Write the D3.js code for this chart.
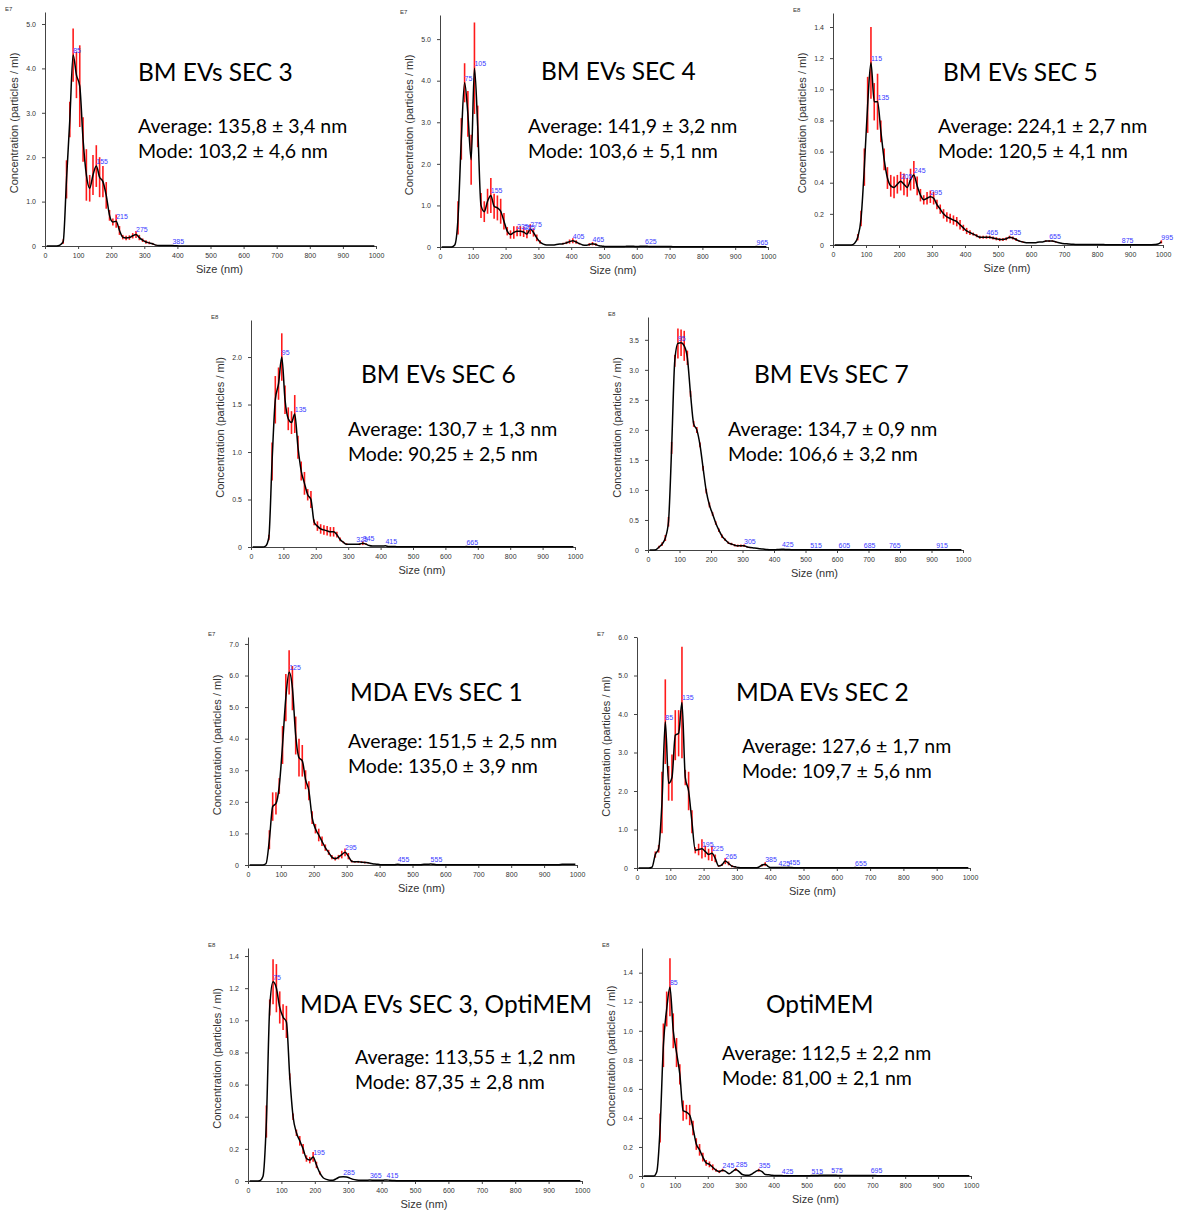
<!DOCTYPE html>
<html>
<head>
<meta charset="utf-8">
<script src="https://cdn.jsdelivr.net/npm/d3@7"></script>
<style>
  body { margin: 0; background: #fff; }
  .tick text { font-family: "Liberation Sans", Arial, sans-serif; font-size: 7px; fill: #333; }
  .domain, .tick line { stroke: #444; }
</style>
</head>
<body>
<script>
var w = 1180,
    h = 1216;

// bin centres (nm)
var sizeBins = [
  5, 15, 25, 35, 45, 55, 65, 75, 85, 95,
  105, 115, 125, 135, 145, 155, 165, 175, 185, 195,
  205, 215, 225, 235, 245, 255, 265, 275, 285, 295,
  305, 315, 325, 335, 345, 355, 365, 375, 385, 395,
  405, 415, 425, 435, 445, 455, 465, 475, 485, 495,
  505, 515, 525, 535, 545, 555, 565, 575, 585, 595,
  605, 615, 625, 635, 645, 655, 665, 675, 685, 695,
  705, 715, 725, 735, 745, 755, 765, 775, 785, 795,
  805, 815, 825, 835, 845, 855, 865, 875, 885, 895,
  905, 915, 925, 935, 945, 955, 965, 975, 985, 995
];

var sizeTicks = [0, 100, 200, 300, 400, 500, 600, 700, 800, 900, 1000];

// BM EVs SEC 3 (E7)
var bmSec3Conc = [
  0, 0, 0, 0, 0.02, 0.1, 1.5, 2.85, 4.3, 3.85,
  3.6, 2.4, 1.6, 1.3, 1.6, 1.8, 1.55, 1.45, 1.14, 0.69,
  0.54, 0.56, 0.35, 0.2, 0.18, 0.19, 0.23, 0.26, 0.19, 0.13,
  0.09, 0.07, 0.05, 0.02, 0.01, 0.01, 0.01, 0.01, 0.01, 0.005,
  0, 0, 0, 0, 0, 0, 0, 0, 0, 0,
  0, 0, 0, 0, 0, 0, 0, 0, 0, 0,
  0, 0, 0, 0, 0, 0, 0, 0, 0, 0,
  0, 0, 0, 0, 0, 0, 0, 0, 0, 0,
  0, 0, 0, 0, 0, 0, 0, 0, 0, 0,
  0, 0, 0, 0, 0, 0, 0, 0, 0, 0
];
var bmSec3Err = [
  0, 0, 0, 0, 0, 0.05, 0.43, 0.4, 0.6, 0.52,
  0.92, 0.5, 0.58, 0.3, 0.45, 0.47, 0.45, 0.35, 0.3, 0.12,
  0.08, 0.15, 0.1, 0.05, 0.05, 0.05, 0.06, 0.08, 0.06, 0.04,
  0.04, 0.03, 0.02, 0.01
];
var bmSec3Peaks = [85, 155, 215, 275, 385];

// BM EVs SEC 4 (E7)
var bmSec4Conc = [
  0, 0, 0, 0, 0.05, 0.7, 2.6, 3.95, 3.2, 2.1,
  4.3, 2.9, 1.0, 0.85, 1.1, 1.24, 0.98, 0.94, 0.86, 0.62,
  0.38, 0.3, 0.35, 0.38, 0.38, 0.36, 0.31, 0.43, 0.35, 0.22,
  0.12, 0.07, 0.05, 0.05, 0.05, 0.06, 0.07, 0.08, 0.1, 0.13,
  0.15, 0.12, 0.08, 0.05, 0.04, 0.06, 0.08, 0.06, 0.03, 0.02,
  0.01, 0.01, 0.01, 0.01, 0.01, 0.01, 0.015, 0.02, 0.02, 0.015,
  0.015, 0.02, 0.02, 0.015, 0.01, 0.01, 0.01, 0.01, 0.01, 0.01,
  0.01, 0.005, 0.005, 0.005, 0.005, 0.005, 0.005, 0.005, 0.005, 0.005,
  0.005, 0.005, 0.005, 0.005, 0.005, 0.005, 0.005, 0.005, 0.005, 0.005,
  0.005, 0.005, 0.005, 0.005, 0.005, 0.005, 0.01, 0.005, 0.005, 0.005
];
var bmSec4Err = [
  0, 0, 0, 0, 0, 0.4, 0.5, 0.47, 0.55, 0.6,
  1.1, 0.5, 0.3, 0.25, 0.3, 0.42, 0.3, 0.3, 0.3, 0.2,
  0.1, 0.1, 0.15, 0.12, 0.12, 0.12, 0.1, 0.12, 0.1, 0.08,
  0.04, 0, 0, 0, 0, 0, 0, 0.02, 0.03, 0.05,
  0.06, 0.04, 0.02, 0, 0, 0.03, 0.04, 0.03
];
var bmSec4Peaks = [75, 105, 155, 235, 255, 275, 405, 465, 625, 965];

// BM EVs SEC 5 (E8)
var bmSec5Conc = [
  0, 0, 0, 0, 0, 0, 0.01, 0.05, 0.17, 0.5,
  0.9, 1.17, 0.92, 0.92, 0.73, 0.55, 0.43, 0.38, 0.37, 0.39,
  0.41, 0.39, 0.37, 0.42, 0.45, 0.38, 0.32, 0.29, 0.3, 0.31,
  0.3, 0.26, 0.23, 0.2, 0.18, 0.17, 0.16, 0.15, 0.13, 0.11,
  0.09, 0.08, 0.07, 0.06, 0.05, 0.05, 0.05, 0.05, 0.045, 0.04,
  0.035, 0.035, 0.04, 0.05, 0.045, 0.035, 0.025, 0.02, 0.015, 0.015,
  0.015, 0.015, 0.02, 0.02, 0.025, 0.025, 0.025, 0.02, 0.015, 0.01,
  0.008, 0.006, 0.005, 0.004, 0.004, 0.003, 0.003, 0.003, 0.003, 0.003,
  0.003, 0.003, 0.002, 0.002, 0.002, 0.002, 0.002, 0.002, 0.002, 0.002,
  0.002, 0.002, 0.002, 0.002, 0.002, 0.002, 0.002, 0.003, 0.006, 0.02
];
var bmSec5Err = [
  0, 0, 0, 0, 0, 0, 0, 0.02, 0.05, 0.12,
  0.18, 0.23, 0.12, 0.18, 0.07, 0.07, 0.07, 0.07, 0.07, 0.06,
  0.06, 0.07, 0.06, 0.07, 0.09, 0.06, 0.04, 0.03, 0.04, 0.04,
  0.04, 0.03, 0.03, 0.03, 0.03, 0.03, 0.03, 0.03, 0.03, 0.02,
  0.02, 0.015, 0.01, 0.01, 0.01, 0.01, 0.01, 0.01, 0.01, 0.01,
  0.01, 0.01, 0.01, 0.01, 0.01, 0.01, 0.005, 0.005, 0, 0,
  0, 0, 0, 0, 0.005, 0.005, 0.005, 0.005, 0, 0,
  0, 0, 0, 0, 0, 0, 0, 0, 0, 0,
  0, 0, 0, 0, 0, 0, 0, 0, 0, 0,
  0, 0, 0, 0, 0, 0, 0, 0, 0, 0.01
];
var bmSec5Peaks = [115, 135, 205, 245, 295, 465, 535, 655, 875, 995];

// BM EVs SEC 6 (E8)
var bmSec6Conc = [
  0, 0, 0, 0, 0.01, 0.1, 0.9, 1.55, 1.72, 2.0,
  1.55, 1.35, 1.31, 1.4, 1.05, 0.8, 0.67, 0.55, 0.5, 0.26,
  0.22, 0.19, 0.18, 0.17, 0.16, 0.16, 0.13, 0.08, 0.05, 0.03,
  0.03, 0.03, 0.03, 0.03, 0.04, 0.03, 0.015, 0.01, 0.01, 0.01,
  0.01, 0.012, 0.005, 0.004, 0.004, 0.003, 0.003, 0.003, 0.003, 0.003,
  0.003, 0.003, 0.003, 0.003, 0.003, 0.003, 0.003, 0.003, 0.003, 0.003,
  0.003, 0.003, 0.003, 0.003, 0.003, 0.003, 0.004, 0.003, 0.003, 0.003,
  0.003, 0.003, 0.003, 0.003, 0.003, 0.003, 0.003, 0.003, 0.003, 0.003,
  0.002, 0.002, 0.002, 0.002, 0.002, 0.002, 0.002, 0.002, 0.002, 0.002,
  0.002, 0.002, 0.002, 0.002, 0.002, 0.002, 0.002, 0.002, 0.002, 0.002
];
var bmSec6Err = [
  0, 0, 0, 0, 0, 0.03, 0.2, 0.25, 0.17, 0.25,
  0.15, 0.12, 0.12, 0.2, 0.12, 0.1, 0.12, 0.06, 0.09, 0.03,
  0.05, 0.05, 0.05, 0.05, 0.05, 0.05, 0.03, 0.02, 0.01, 0.01,
  0, 0, 0, 0.01, 0.02, 0.01
];
var bmSec6Peaks = [95, 135, 325, 345, 415, 665];

// BM EVs SEC 7 (E8)
var bmSec7Conc = [
  0, 0, 0.005, 0.05, 0.1, 0.2, 0.47, 1.7, 3.15, 3.44,
  3.45, 3.4, 3.2, 2.6, 2.1, 2.0, 1.75, 1.36, 0.98, 0.75,
  0.6, 0.45, 0.33, 0.23, 0.17, 0.12, 0.1, 0.08, 0.07, 0.07,
  0.07, 0.05, 0.04, 0.035, 0.03, 0.02, 0.015, 0.01, 0.005, 0.003,
  0.005, 0.01, 0.012, 0.01, 0.008, 0.006, 0.005, 0.004, 0.004, 0.004,
  0.004, 0.005, 0.004, 0.004, 0.003, 0.003, 0.003, 0.003, 0.003, 0.003,
  0.004, 0.003, 0.003, 0.003, 0.003, 0.003, 0.003, 0.003, 0.004, 0.003,
  0.003, 0.003, 0.003, 0.003, 0.003, 0.003, 0.004, 0.003, 0.003, 0.003,
  0.003, 0.003, 0.003, 0.003, 0.003, 0.003, 0.003, 0.003, 0.003, 0.003,
  0.003, 0.004, 0.003, 0.003, 0.003, 0.003, 0.003, 0.003, 0.003, 0.003
];
var bmSec7Err = [
  0, 0, 0, 0.02, 0.03, 0.05, 0.08, 0.1, 0.1, 0.25,
  0.22, 0.25, 0.12, 0.05, 0.05, 0.05, 0.04, 0.04, 0.04, 0.04,
  0.03, 0.03, 0.03, 0.03, 0.02, 0.02, 0.02, 0.02, 0.02, 0.02,
  0.02, 0.01, 0.01
];
var bmSec7Peaks = [95, 305, 425, 515, 605, 685, 765, 915];

// MDA EVs SEC 1 (E7)
var mdaSec1Conc = [
  0, 0, 0, 0, 0, 0.05, 0.8, 1.85, 1.95, 2.5,
  3.8, 5.3, 6.1, 5.6, 4.1, 3.4, 3.3, 2.7, 2.35, 1.5,
  1.15, 0.95, 0.75, 0.55, 0.4, 0.25, 0.2, 0.25, 0.33, 0.4,
  0.28, 0.12, 0.1, 0.1, 0.09, 0.08, 0.07, 0.05, 0.03, 0.02,
  0.01, 0.01, 0.01, 0.01, 0.01, 0.02, 0.01, 0.01, 0.01, 0.01,
  0.01, 0.01, 0.01, 0.02, 0.02, 0.03, 0.02, 0.01, 0.01, 0.01,
  0.01, 0.01, 0.01, 0.01, 0.01, 0.01, 0.01, 0.01, 0.01, 0.01,
  0.01, 0.01, 0.01, 0.01, 0.01, 0.01, 0.01, 0.01, 0.01, 0.01,
  0.01, 0.01, 0.01, 0.01, 0.01, 0.01, 0.01, 0.01, 0.01, 0.01,
  0.01, 0.01, 0.01, 0.01, 0.01, 0.02, 0.02, 0.02, 0.02, 0.02
];
var mdaSec1Err = [
  0, 0, 0, 0, 0, 0, 0.3, 0.45, 0.35, 0.25,
  0.6, 0.75, 0.7, 0.7, 0.6, 0.6, 0.5, 0.3, 0.3, 0.2,
  0.15, 0.2, 0.15, 0.1, 0.08, 0.07, 0.06, 0.07, 0.12, 0.12,
  0.1, 0.04, 0.03, 0.03, 0.03, 0.03, 0.02
];
var mdaSec1Peaks = [125, 295, 455, 555];

// MDA EVs SEC 2 (E7)
var mdaSec2Conc = [
  0, 0, 0, 0, 0.02, 0.35, 0.5, 1.7, 3.8, 2.2,
  2.35, 3.45, 3.5, 4.3, 2.35, 2.0, 1.2, 0.46, 0.48, 0.5,
  0.43, 0.35, 0.38, 0.25, 0.05, 0.08, 0.18, 0.12, 0.05, 0.03,
  0.01, 0.005, 0.005, 0.005, 0.005, 0.005, 0.02, 0.07, 0.1, 0.03,
  0.01, 0.01, 0.01, 0.01, 0.01, 0.02, 0.01, 0.005, 0.005, 0.005,
  0.005, 0.005, 0.005, 0.005, 0.005, 0.005, 0.005, 0.005, 0.005, 0.005,
  0.005, 0.005, 0.005, 0.005, 0.005, 0.01, 0.005, 0.005, 0.005, 0.005,
  0.005, 0.005, 0.005, 0.005, 0.005, 0.005, 0.005, 0.005, 0.005, 0.005,
  0.005, 0.005, 0.005, 0.005, 0.005, 0.005, 0.005, 0.005, 0.005, 0.005,
  0.005, 0.005, 0.005, 0.005, 0.005, 0.005, 0.005, 0.005, 0.005, 0.005
];
var mdaSec2Err = [
  0, 0, 0, 0, 0, 0.08, 0.1, 0.8, 1.1, 0.45,
  0.6, 0.65, 0.6, 1.45, 0.2, 0.5, 0.3, 0.08, 0.15, 0.25,
  0.15, 0.15, 0.2, 0.1, 0.02, 0.03, 0.08, 0.05, 0.03, 0.02,
  0, 0, 0, 0, 0, 0, 0, 0.03, 0.05
];
var mdaSec2Peaks = [85, 135, 195, 225, 265, 385, 425, 455, 655];

// MDA EVs SEC 3, OptiMEM (E8)
var mdaSec3Conc = [
  0, 0, 0, 0.002, 0.03, 0.37, 1.08, 1.24, 1.2, 1.08,
  1.02, 0.99, 0.65, 0.4, 0.3, 0.25, 0.2, 0.14, 0.13, 0.15,
  0.1, 0.05, 0.02, 0.01, 0.005, 0.005, 0.015, 0.025, 0.027, 0.025,
  0.018, 0.01, 0.006, 0.004, 0.004, 0.005, 0.006, 0.005, 0.004, 0.004,
  0.005, 0.007, 0.004, 0.003, 0.002, 0.002, 0.002, 0.002, 0.002, 0.002,
  0.002, 0.002, 0.002, 0.002, 0.002, 0.002, 0.002, 0.002, 0.002, 0.002,
  0.002, 0.002, 0.002, 0.002, 0.002, 0.002, 0.002, 0.002, 0.002, 0.002,
  0.002, 0.002, 0.002, 0.002, 0.002, 0.002, 0.002, 0.002, 0.002, 0.002,
  0.002, 0.002, 0.002, 0.002, 0.002, 0.002, 0.002, 0.002, 0.002, 0.002,
  0.002, 0.002, 0.002, 0.002, 0.002, 0.002, 0.002, 0.002, 0.002, 0.002
];
var mdaSec3Err = [
  0, 0, 0, 0, 0, 0.1, 0.05, 0.14, 0.15, 0.1,
  0.08, 0.1, 0.02, 0.02, 0.02, 0.03, 0.03, 0.02, 0.02, 0.03,
  0.02, 0.01
];
var mdaSec3Peaks = [75, 195, 285, 365, 415];

// OptiMEM (E8)
var optiConc = [
  0, 0, 0, 0, 0.03, 0.33, 0.9, 1.15, 1.3, 1.0,
  0.85, 0.7, 0.45, 0.44, 0.42, 0.33, 0.22, 0.18, 0.13, 0.09,
  0.08, 0.06, 0.04, 0.03, 0.04, 0.03, 0.015, 0.03, 0.045, 0.03,
  0.01, 0.005, 0.005, 0.015, 0.03, 0.04, 0.03, 0.01, 0.008, 0.005,
  0.004, 0.003, 0.003, 0.002, 0.002, 0.002, 0.002, 0.002, 0.002, 0.002,
  0.002, 0.003, 0.003, 0.004, 0.005, 0.005, 0.005, 0.006, 0.005, 0.004,
  0.003, 0.003, 0.003, 0.003, 0.003, 0.003, 0.003, 0.003, 0.003, 0.004,
  0.003, 0.002, 0.002, 0.002, 0.002, 0.002, 0.002, 0.002, 0.002, 0.002,
  0.002, 0.002, 0.002, 0.002, 0.002, 0.002, 0.002, 0.002, 0.002, 0.002,
  0.002, 0.002, 0.002, 0.002, 0.002, 0.002, 0.002, 0.002, 0.002, 0.002
];
var optiErr = [
  0, 0, 0, 0, 0, 0.1, 0.15, 0.12, 0.2, 0.12,
  0.1, 0.07, 0.07, 0.05, 0.07, 0.05, 0.04, 0.04, 0.03, 0.02,
  0.02, 0.02, 0.01, 0.01, 0.01, 0, 0, 0, 0.01, 0,
  0, 0, 0, 0, 0, 0.01
];
var optiPeaks = [85, 245, 285, 355, 425, 515, 575, 695];

// y tick values
var ticksOneStep5 = [0, 1, 2, 3, 4, 5];
var ticksOneStep6 = [0, 1, 2, 3, 4, 5, 6];
var ticksOneStep7 = [0, 1, 2, 3, 4, 5, 6, 7];
var ticksFifth = [0, 0.2, 0.4, 0.6, 0.8, 1.0, 1.2, 1.4];
var ticksHalf2 = [0, 0.5, 1.0, 1.5, 2.0];
var ticksHalf35 = [0, 0.5, 1.0, 1.5, 2.0, 2.5, 3.0, 3.5];

var titles = ['BM EVs SEC 3', 'BM EVs SEC 4', 'BM EVs SEC 5', 'BM EVs SEC 6', 'BM EVs SEC 7',
              'MDA EVs SEC 1', 'MDA EVs SEC 2', 'MDA EVs SEC 3, OptiMEM', 'OptiMEM'];
var averages = ['135,8 ± 3,4', '141,9 ± 3,2', '224,1 ± 2,7', '130,7 ± 1,3', '134,7 ± 0,9',
                '151,5 ± 2,5', '127,6 ± 1,7', '113,55 ± 1,2', '112,5 ± 2,2'];
var modes = ['103,2 ± 4,6', '103,6 ± 5,1', '120,5 ± 4,1', '90,25 ± 2,5', '106,6 ± 3,2',
             '135,0 ± 3,9', '109,7 ± 5,6', '87,35 ± 2,8', '81,00 ± 2,1'];
var exponents = ['E7', 'E7', 'E8', 'E8', 'E8', 'E7', 'E7', 'E8', 'E8'];
var yMaxes = [5.27, 5.58, 1.49, 2.39, 3.88, 7.22, 6.0, 1.45, 1.57];

var concs = [bmSec3Conc, bmSec4Conc, bmSec5Conc, bmSec6Conc, bmSec7Conc, mdaSec1Conc, mdaSec2Conc, mdaSec3Conc, optiConc];
var errs = [bmSec3Err, bmSec4Err, bmSec5Err, bmSec6Err, bmSec7Err, mdaSec1Err, mdaSec2Err, mdaSec3Err, optiErr];
var peaks = [bmSec3Peaks, bmSec4Peaks, bmSec5Peaks, bmSec6Peaks, bmSec7Peaks, mdaSec1Peaks, mdaSec2Peaks, mdaSec3Peaks, optiPeaks];
var yTicks = [ticksOneStep5, ticksOneStep5, ticksFifth, ticksHalf2, ticksHalf35, ticksOneStep7, ticksOneStep6, ticksFifth, ticksFifth];

// where each panel sits on the page
var layout = [
  {x0: 45,  x1: 376, top: 12,  bot: 246,  tx: 138, ty: 81,   ax: 138, ay: 133},
  {x0: 440, x1: 768, top: 15,  bot: 247,  tx: 541, ty: 80,   ax: 528, ay: 133},
  {x0: 833, x1: 1163, top: 13, bot: 245,  tx: 943, ty: 81,   ax: 938, ay: 133},
  {x0: 251, x1: 575, top: 320, bot: 547,  tx: 361, ty: 383,  ax: 348, ay: 436},
  {x0: 648, x1: 963, top: 317, bot: 550,  tx: 754, ty: 383,  ax: 728, ay: 436},
  {x0: 248, x1: 577, top: 637, bot: 865,  tx: 350, ty: 701,  ax: 348, ay: 748},
  {x0: 637, x1: 970, top: 637, bot: 868,  tx: 736, ty: 701,  ax: 742, ay: 753},
  {x0: 248, x1: 582, top: 948, bot: 1181, tx: 300, ty: 1013, ax: 355, ay: 1064},
  {x0: 642, x1: 971, top: 948, bot: 1176, tx: 766, ty: 1013, ax: 722, ay: 1060}
];

var svg = d3.select('body')
            .append('svg')
            .attr('width', w)
            .attr('height', h);

var tickFmt = function(d) { return d === 0 ? '0' : d3.format('.1f')(d); };

titles.forEach(function(title, k) {
  var L = layout[k];
  var conc = concs[k],
      err = errs[k];

  // one record per bin so the error bars keep their size
  var points = conc.map(function(v, i) {
    return {size: sizeBins[i], value: v, err: err[i] || 0};
  });

  var x = d3.scaleLinear().domain([0, 1000]).range([L.x0, L.x1]);
  var y = d3.scaleLinear().domain([0, yMaxes[k]]).range([L.bot, L.top]);

  var g = svg.append('g');

  // axes
  g.append('g')
   .attr('transform', 'translate(0,' + L.bot + ')')
   .call(d3.axisBottom(x).tickValues(sizeTicks).tickFormat(d3.format('d'))
           .tickSize(3).tickSizeOuter(0).tickPadding(4));

  g.append('g')
   .attr('transform', 'translate(' + L.x0 + ',0)')
   .call(d3.axisLeft(y).tickValues(yTicks[k]).tickFormat(tickFmt)
           .tickSize(3).tickSizeOuter(0).tickPadding(6));

  // error bars
  g.selectAll('line.err')
   .data(points.filter(function(d) { return d.err > 0; }))
   .enter()
   .append('line')
   .attr('class', 'err')
   .attr('x1', function(d) { return x(d.size); })
   .attr('x2', function(d) { return x(d.size); })
   .attr('y1', function(d) { return y(Math.max(0, d.value - d.err)); })
   .attr('y2', function(d) { return y(d.value + d.err); })
   .style('stroke', '#ff1a1a')
   .style('stroke-width', 1.6);

  // distribution line
  var line = d3.line()
               .x(function(d) { return x(d.size); })
               .y(function(d) { return y(d.value); })
               .curve(d3.curveMonotoneX);

  g.append('path')
   .datum(points)
   .attr('d', line)
   .style('fill', 'none')
   .style('stroke', '#000')
   .style('stroke-width', 1.5);

  // peak labels
  g.selectAll('text.peak')
   .data(peaks[k])
   .enter()
   .append('text')
   .attr('class', 'peak')
   .attr('x', function(d) { return x(d); })
   .attr('y', function(d) { return y(conc[sizeBins.indexOf(d)]) - 2; })
   .style('font-family', '"Liberation Sans", Arial, sans-serif')
   .style('font-size', '7px')
   .style('fill', '#3a3aff')
   .text(function(d) { return d; });

  // axis titles
  g.append('text')
   .attr('x', (L.x0 + L.x1) / 2 + 9)
   .attr('y', L.bot + 27)
   .attr('text-anchor', 'middle')
   .style('font-family', '"Liberation Sans", Arial, sans-serif')
   .style('font-size', '11px')
   .style('fill', '#333')
   .text('Size (nm)');

  g.append('text')
   .attr('transform', 'translate(' + (L.x0 - 27) + ',' + ((L.top + L.bot) / 2 - 6) + ') rotate(-90)')
   .attr('text-anchor', 'middle')
   .style('font-family', '"Liberation Sans", Arial, sans-serif')
   .style('font-size', '11px')
   .style('fill', '#333')
   .text('Concentration (particles / ml)');

  g.append('text')
   .attr('x', L.x0 - 40)
   .attr('y', L.top - 1)
   .style('font-family', '"Liberation Sans", Arial, sans-serif')
   .style('font-size', '6px')
   .style('fill', '#333')
   .text(exponents[k]);

  // sample name and sizes
  g.append('text')
   .attr('x', L.tx)
   .attr('y', L.ty)
   .style('font-family', 'Lato, "Open Sans", sans-serif')
   .style('font-size', '24.5px')
   .style('fill', '#000')
   .text(title);

  g.append('text')
   .attr('x', L.ax)
   .attr('y', L.ay)
   .style('font-family', 'Lato, "Open Sans", sans-serif')
   .style('font-size', '19.5px')
   .style('fill', '#000')
   .text('Average: ' + averages[k] + ' nm');

  g.append('text')
   .attr('x', L.ax)
   .attr('y', L.ay + 25)
   .style('font-family', 'Lato, "Open Sans", sans-serif')
   .style('font-size', '19.5px')
   .style('fill', '#000')
   .text('Mode: ' + modes[k] + ' nm');
});
</script>
</body>
</html>
